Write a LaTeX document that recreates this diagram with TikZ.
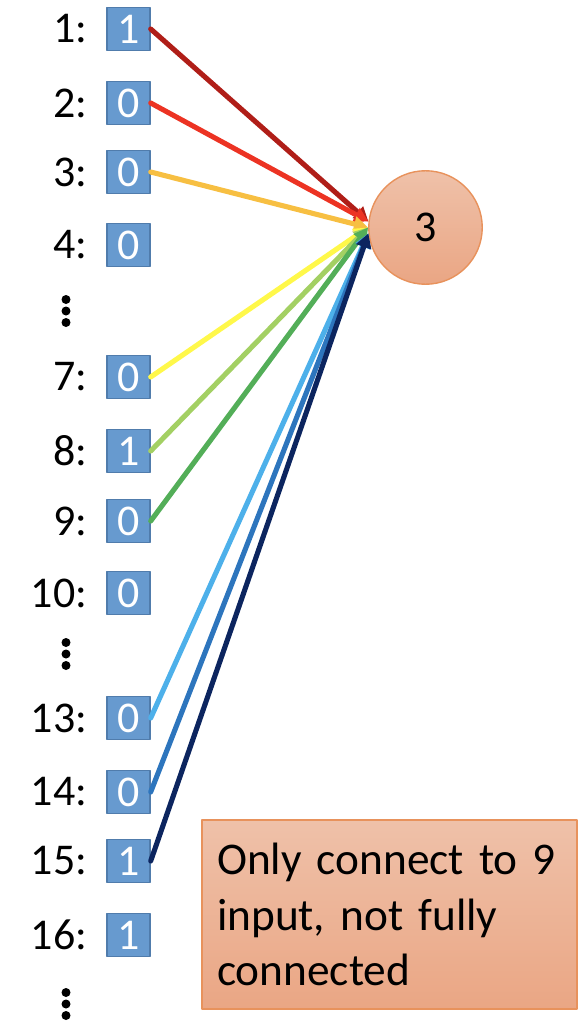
\documentclass[tikz,border=0pt]{standalone}
\usepackage{fontspec}
\setmainfont{Carlito}
\usetikzlibrary{arrows.meta}
\begin{document}
\begin{tikzpicture}[x=0.02cm, y=-0.02cm, line cap=round, line join=round,
  every node/.style={font=\fontsize{25}{31.75}\selectfont}]
  \definecolor{bitblue}{RGB}{103,154,207}
  \definecolor{bitedge}{RGB}{80,124,172}
  \definecolor{peachtop}{RGB}{239,193,169}
  \definecolor{peachbot}{RGB}{234,166,132}
  \definecolor{peachedge}{RGB}{232,146,92}
  \definecolor{w1}{RGB}{176,30,24}
  \definecolor{w2}{RGB}{236,51,35}
  \definecolor{w3}{RGB}{247,191,66}
  \definecolor{w7}{RGB}{255,248,74}
  \definecolor{w8}{RGB}{163,208,99}
  \definecolor{w9}{RGB}{83,174,88}
  \definecolor{w13}{RGB}{77,176,234}
  \definecolor{w14}{RGB}{45,117,189}
  \definecolor{w15}{RGB}{12,37,95}
  \tikzset{
    bit/.style={draw=bitedge, line width=0.8pt, fill=bitblue, text=white,
      minimum size=0.86cm, inner sep=0pt},
    idx/.style={anchor=east, inner sep=0pt},
    wire/.style={line width=2.9pt, -{Triangle[length=8pt,width=8.5pt]}},
    peach/.style={draw=peachedge, line width=0.8pt, top color=peachtop, bottom color=peachbot}
  }
  \useasboundingbox (0,0) rectangle (584,1034);
  % input bits
  \foreach \i/\y/\v in {1/29/1, 2/103/0, 3/172/0, 4/245/0, 7/377/0, 8/451/1,
    9/521/0, 10/593/0, 13/718/0, 14/792/0, 15/861/1, 16/935/1} {
    \node[bit] (b\i) at (128.5,\y) {\v};
    \node[idx] (l\i) at (87.5,\y) {\i:};
  }
  % skipped rows
  \foreach \y in {311, 654, 1004}
    \foreach \d in {-11.5, 0, 11.5}
      \fill (66,\y+\d) circle[radius=4.5];
  % output neuron
  \node[peach, circle, minimum size=2.27cm, inner sep=0pt] (cell) at (425.5,227.5) {3};
  \foreach \i/\a in {1/174, 2/174, 3/180, 7/180, 8/180, 9/180, 13/186, 14/186, 15/186}
    \draw[wire, draw=w\i] (b\i.east) -- (cell.\a);
  \node[peach, rectangle, minimum height=3.78cm, text width=6.9cm, inner xsep=0.3cm,
    align=left, font=\fontsize{25.8}{31.75}\selectfont] (note) at (389.5,914.5)
    {Only connect to 9\\input, not fully\\connected};
\end{tikzpicture}
\end{document}
